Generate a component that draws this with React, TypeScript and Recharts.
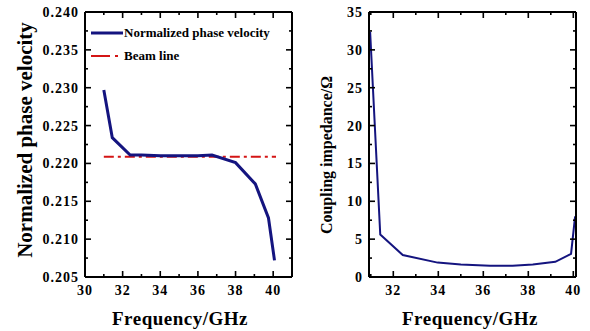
import React from 'react';
import { LineChart, Line, XAxis, YAxis, Legend } from 'recharts';

// ---- Data: left panel (normalized phase velocity) ----
const freqV = [31.0, 31.45, 32.4, 33.0, 34.0, 35.0, 36.0, 36.75, 38.0, 39.05, 39.75, 40.07];
const velocity = [0.2297, 0.2234, 0.2211, 0.2211, 0.2210, 0.2210, 0.2210, 0.2211, 0.2201, 0.2173, 0.2128, 0.2072];
const beamFreq = [31.0, 40.15];
const beamValue = [0.22088, 0.22088];

// ---- Data: right panel (coupling impedance) ----
const freqZ = [30.97, 31.42, 32.42, 33.97, 35.0, 36.3, 37.3, 38.2, 39.2, 39.9, 40.08];
const impedance = [32.4, 5.6, 2.9, 1.9, 1.65, 1.5, 1.5, 1.65, 2.0, 3.05, 8.0];

// ---- Ticks ----
const leftXMajor = [30, 32, 34, 36, 38, 40];
const leftXMinor = [31, 33, 35, 37, 39];
const leftYMajor = [0.205, 0.21, 0.215, 0.22, 0.225, 0.23, 0.235, 0.24];
const leftYMinor = [0.2075, 0.2125, 0.2175, 0.2225, 0.2275, 0.2325, 0.2375];
const rightXMajor = [32, 34, 36, 38, 40];
const rightXMinor = [31, 33, 35, 37, 39];
const rightYMajor = [0, 5, 10, 15, 20, 25, 30, 35];
const rightYMinor = [2.5, 7.5, 12.5, 17.5, 22.5, 27.5, 32.5];

const velocityData = freqV.map((f, i) => ({ f, v: velocity[i] }));
const beamData = beamFreq.map((f, i) => ({ f, v: beamValue[i] }));
const impedanceData = freqZ.map((f, i) => ({ f, z: impedance[i] }));

const FONT = "'Liberation Serif', 'Times New Roman', serif";
const NAVY = '#14147f';
const RED = '#d41515';
const MAJOR_LEN = 6;
const MINOR_LEN = 3;

type Side = 'bottom' | 'top' | 'left' | 'right';

const labelStyle: React.CSSProperties = {
  fontFamily: FONT,
  fontWeight: 700,
  fontSize: 14,
  letterSpacing: 1,
};

function makeTick(side: Side, majors: number[], fmt: (v: number) => string, showLabel: boolean) {
  return (props: any) => {
    const { x, y, payload } = props;
    const val = payload.value as number;
    const isMajor = majors.some((m) => Math.abs(m - val) < 1e-9);
    const len = isMajor ? MAJOR_LEN : MINOR_LEN;
    let line;
    if (side === 'bottom') line = <line x1={x} y1={y} x2={x} y2={y - len} />;
    else if (side === 'top') line = <line x1={x} y1={y} x2={x} y2={y + len} />;
    else if (side === 'left') line = <line x1={x} y1={y} x2={x + len} y2={y} />;
    else line = <line x1={x} y1={y} x2={x - len} y2={y} />;
    let label = null;
    if (showLabel && isMajor) {
      if (side === 'bottom') {
        label = (
          <text x={x} y={y + 18} textAnchor="middle" fill="#000" style={labelStyle}>
            {fmt(val)}
          </text>
        );
      } else if (side === 'left') {
        label = (
          <text x={x - 6} y={y + 5} textAnchor="end" fill="#000" style={labelStyle}>
            {fmt(val)}
          </text>
        );
      }
    }
    return (
      <g>
        <g stroke="#000" strokeWidth={1.6}>{line}</g>
        {label}
      </g>
    );
  };
}

function frameAxes(
  xDomain: [number, number],
  yDomain: [number, number],
  xMajor: number[],
  xMinor: number[],
  yMajor: number[],
  yMinor: number[],
  yFmt: (v: number) => string
) {
  const c = { type: 'number' as const, allowDataOverflow: true, interval: 0 as const, tickSize: 0, tickMargin: 0, tickLine: false };
  const xt = [...xMajor, ...xMinor].sort((a, b) => a - b);
  const yt = [...yMajor, ...yMinor].sort((a, b) => a - b);
  const al = { stroke: '#000', strokeWidth: 2 };
  return [
    <XAxis key="xb" xAxisId="b" dataKey="f" orientation="bottom" domain={xDomain} ticks={xt} height={1}
      tick={makeTick('bottom', xMajor, (v) => String(v), true)} axisLine={al} {...c} />,
    <XAxis key="xt" xAxisId="t" dataKey="f" orientation="top" domain={xDomain} ticks={xt} height={1}
      tick={makeTick('top', xMajor, (v) => String(v), false)} axisLine={al} {...c} />,
    <YAxis key="yl" yAxisId="l" orientation="left" domain={yDomain} ticks={yt} width={1}
      tick={makeTick('left', yMajor, yFmt, true)} axisLine={al} {...c} />,
    <YAxis key="yr" yAxisId="r" orientation="right" domain={yDomain} ticks={yt} width={1}
      tick={makeTick('right', yMajor, yFmt, false)} axisLine={al} {...c} />,
  ];
}

const LegendBox = () => (
  <div style={{ fontFamily: FONT, fontWeight: 700, fontSize: 13, color: '#000' }}>
    <div style={{ display: 'flex', alignItems: 'center', height: 23 }}>
      <svg width={34} height={10} style={{ display: 'block' }}>
        <line x1={1} y1={5} x2={33} y2={5} stroke={NAVY} strokeWidth={3} />
      </svg>
      <span style={{ whiteSpace: 'nowrap' }}>Normalized phase velocity</span>
    </div>
    <div style={{ display: 'flex', alignItems: 'center', height: 23 }}>
      <svg width={34} height={10} style={{ display: 'block' }}>
        <line x1={1} y1={5} x2={33} y2={5} stroke={RED} strokeWidth={2} strokeDasharray="19 5 3 20" />
      </svg>
      <span style={{ whiteSpace: 'nowrap' }}>Beam line</span>
    </div>
  </div>
);

const titleBase: React.CSSProperties = {
  position: 'absolute',
  fontFamily: FONT,
  fontWeight: 700,
  color: '#000',
  whiteSpace: 'nowrap',
  lineHeight: 1,
};

export default function App() {
  return (
    <div style={{ position: 'absolute', left: 0, top: 0, width: 590, height: 331, background: '#fff', overflow: 'hidden' }}>
      <div style={{ position: 'absolute', left: 0, top: 0 }}>
        <LineChart width={300} height={331} margin={{ top: 11, right: 7, bottom: 53, left: 84 }}>
          {frameAxes([30, 41], [0.205, 0.24], leftXMajor, leftXMinor, leftYMajor, leftYMinor, (v) => v.toFixed(3))}
          <Line xAxisId="b" yAxisId="l" data={beamData} dataKey="v" type="linear" stroke={RED} strokeWidth={2}
            strokeDasharray="10 4 3 4" dot={false} isAnimationActive={false} />
          <Line xAxisId="b" yAxisId="l" data={velocityData} dataKey="v" type="linear" stroke={NAVY} strokeWidth={3}
            dot={false} isAnimationActive={false} />
          <Legend layout="horizontal" verticalAlign="middle" align="center" content={() => <LegendBox />}
            wrapperStyle={{ position: 'absolute', left: 90, top: 21.5, width: 200, height: 46 }} />
        </LineChart>
      </div>
      <div style={{ position: 'absolute', left: 300, top: 0 }}>
        <LineChart width={290} height={331} margin={{ top: 11, right: 13, bottom: 53, left: 68 }}>
          {frameAxes([30.92, 40.12], [0, 35], rightXMajor, rightXMinor, rightYMajor, rightYMinor, (v) => String(v))}
          <Line xAxisId="b" yAxisId="l" data={impedanceData} dataKey="z" type="linear" stroke={NAVY} strokeWidth={2}
            dot={false} isAnimationActive={false} />
        </LineChart>
      </div>
      <div style={{ ...titleBase, fontSize: 21, left: 25, top: 140, transform: 'translate(-50%, -50%) rotate(-90deg)' }}>
        Normalized phase velocity
      </div>
      <div style={{ ...titleBase, fontSize: 16, left: 327, top: 155, transform: 'translate(-50%, -50%) rotate(-90deg)' }}>
        Coupling impedance/Ω
      </div>
      <div style={{ ...titleBase, fontSize: 19, letterSpacing: 0.5, left: 180, top: 318, transform: 'translate(-50%, -50%)' }}>
        Frequency/GHz
      </div>
      <div style={{ ...titleBase, fontSize: 19, letterSpacing: 0.5, left: 470, top: 318, transform: 'translate(-50%, -50%)' }}>
        Frequency/GHz
      </div>
    </div>
  );
}
